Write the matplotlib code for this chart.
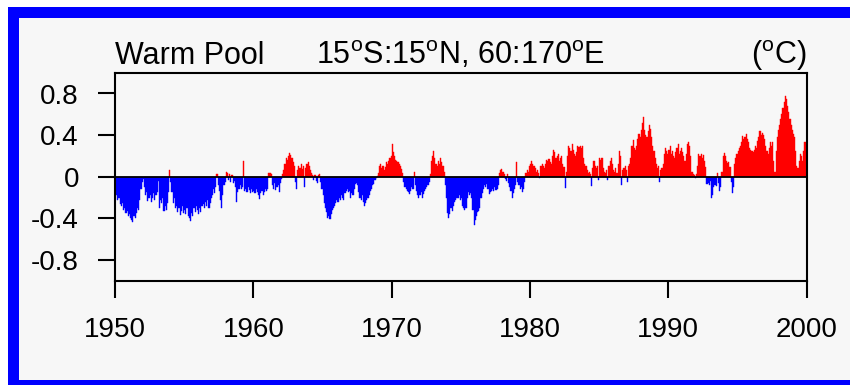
import numpy as np
import matplotlib
matplotlib.use('Agg')
import matplotlib.pyplot as plt
from matplotlib.patches import Rectangle

plt.rcParams['font.family'] = ['Liberation Sans', 'DejaVu Sans']
plt.rcParams['mathtext.fontset'] = 'custom'
plt.rcParams['mathtext.rm'] = 'Liberation Sans'

# monthly SST anomaly (degC), one row per year
anom_1950s = [
    -0.15, -0.18, -0.22, -0.20, -0.26, -0.28, -0.25, -0.32, -0.30, -0.35, -0.33, -0.38,
    -0.36, -0.40, -0.42, -0.44, -0.38, -0.40, -0.35, -0.30, -0.32, -0.22, -0.12, -0.05,
    -0.02, -0.10, -0.18, -0.15, -0.23, -0.20, -0.18, -0.24, -0.20, -0.16, -0.22, -0.18,
    -0.15, -0.04, -0.30, -0.22, -0.25, -0.20, -0.33, -0.28, -0.32, -0.25, -0.15, 0.065,
    -0.05, -0.15, -0.25, -0.20, -0.30, -0.28, -0.34, -0.30, -0.37, -0.33, -0.28, -0.35,
    -0.32, -0.36, -0.30, -0.38, -0.40, -0.43, -0.35, -0.38, -0.30, -0.34, -0.28, -0.32,
    -0.36, -0.30, -0.34, -0.28, -0.26, -0.30, -0.24, -0.28, -0.22, -0.30, -0.25, -0.20,
    -0.18, -0.12, -0.16, -0.10, 0.03, -0.08, -0.14, -0.22, -0.30, -0.18, -0.08, -0.05,
    0.05, 0.04, -0.03, 0.03, -0.05, 0.02, -0.06, -0.04, -0.10, -0.24, -0.15, -0.12,
    -0.08, -0.12, -0.10, 0.15, -0.14, -0.12, -0.15, -0.10, -0.13, -0.16, -0.12, -0.15,
]
anom_1960s = [
    -0.14, -0.16, -0.12, -0.15, -0.18, -0.21, -0.16, -0.14, -0.18, -0.15, -0.12, -0.14,
    -0.12, 0.04, 0.04, 0.03, -0.08, -0.12, -0.06, -0.13, -0.10, -0.08, -0.15, -0.06,
    -0.02, 0.03, 0.06, 0.12, 0.18, 0.16, 0.20, 0.23, 0.21, 0.18, 0.14, 0.10,
    -0.05, -0.12, 0.06, 0.10, 0.08, 0.12, 0.07, 0.10, -0.10, 0.08, 0.12, 0.145,
    0.10, 0.06, 0.04, 0.02, -0.03, 0.02, -0.04, -0.06, 0.02, 0.03, -0.05, -0.12,
    -0.18, -0.25, -0.30, -0.34, -0.40, -0.38, -0.41, -0.36, -0.32, -0.30, -0.28, -0.25,
    -0.22, -0.24, -0.20, -0.22, -0.18, -0.20, -0.22, -0.16, -0.14, -0.12, -0.15, -0.14,
    -0.20, -0.16, -0.18, -0.12, -0.07, -0.06, -0.08, -0.15, -0.20, -0.22, -0.18, -0.24,
    -0.28, -0.25, -0.22, -0.20, -0.18, -0.14, -0.12, -0.08, -0.07, -0.03, -0.01, 0.01,
    0.04, 0.10, 0.12, 0.08, 0.10, 0.06, 0.09, 0.14, 0.12, 0.15, 0.18, 0.20,
]
anom_1970s = [
    0.31, 0.24, 0.20, 0.16, 0.15, 0.14, 0.12, 0.10, 0.07, 0.04, -0.05, -0.10,
    -0.12, -0.14, -0.15, -0.17, -0.14, -0.10, -0.12, 0.05, -0.08, -0.14, -0.18, -0.20,
    -0.18, -0.15, -0.20, -0.17, -0.14, -0.12, -0.10, -0.08, -0.05, 0.03, 0.15, 0.20,
    0.25, 0.18, 0.12, 0.10, 0.15, 0.12, 0.18, 0.14, 0.10, 0.05, -0.08, -0.20,
    -0.35, -0.40, -0.36, -0.30, -0.33, -0.28, -0.24, -0.22, -0.20, -0.20, -0.18, -0.22,
    -0.20, -0.28, -0.30, -0.32, -0.30, -0.20, -0.15, -0.18, -0.16, -0.20, -0.32, -0.46,
    -0.42, -0.38, -0.34, -0.33, -0.30, -0.20, -0.16, -0.12, -0.08, -0.10, -0.07, -0.12,
    -0.17, -0.15, -0.14, -0.12, -0.14, -0.10, -0.13, -0.12, -0.08, 0.04, 0.06, 0.07,
    0.05, 0.03, -0.02, -0.04, 0.03, -0.06, -0.10, -0.14, -0.20, -0.16, -0.12, -0.08,
    0.14, -0.05, -0.08, -0.12, -0.10, -0.15, -0.12, -0.05, 0.04, 0.06, 0.05, 0.10,
]
anom_1980s = [
    0.12, 0.15, 0.12, 0.10, 0.08, 0.05, 0.06, 0.04, -0.01, 0.10, 0.12, 0.10,
    0.08, 0.12, 0.16, 0.15, 0.17, 0.14, 0.12, 0.20, 0.26, 0.24, 0.18, 0.20,
    0.22, 0.15, 0.18, 0.20, 0.12, 0.09, -0.11, 0.05, 0.20, 0.30, 0.28, 0.25,
    0.31, 0.26, 0.22, 0.20, 0.24, 0.30, 0.29, 0.30, 0.28, 0.30, 0.18, 0.12,
    0.10, 0.06, 0.04, 0.05, 0.03, -0.09, 0.08, 0.15, 0.10, 0.08, 0.10, -0.03,
    0.18, 0.16, 0.18, 0.08, 0.05, 0.04, 0.06, -0.03, 0.10, 0.15, 0.18, 0.12,
    0.06, 0.05, 0.08, 0.04, 0.12, 0.25, 0.20, -0.08, 0.06, 0.08, 0.10, 0.06,
    -0.05, 0.10, 0.12, 0.18, 0.30, 0.35, 0.28, 0.26, 0.30, 0.36, 0.41, 0.38,
    0.45, 0.52, 0.57, 0.45, 0.40, 0.38, 0.44, 0.50, 0.46, 0.38, 0.30, 0.25,
    0.18, 0.12, 0.08, 0.10, -0.05, 0.06, 0.08, 0.12, 0.22, 0.28, 0.25, 0.22,
]
anom_1990s = [
    0.26, 0.30, 0.22, 0.25, 0.20, 0.18, 0.24, 0.28, 0.31, 0.22, 0.25, 0.28,
    0.24, 0.20, 0.15, 0.22, 0.31, 0.33, 0.30, 0.20, 0.05, 0.03, 0.02, -0.01,
    0.03, 0.10, 0.22, 0.20, 0.22, 0.18, 0.21, 0.15, 0.09, -0.07, -0.06, -0.08,
    -0.04, -0.20, -0.18, -0.10, -0.08, -0.09, 0.04, -0.06, -0.14, -0.10, 0.05, 0.20,
    0.23, 0.20, 0.15, 0.13, 0.14, 0.09, -0.05, -0.16, -0.10, 0.12, 0.18, 0.22,
    0.25, 0.28, 0.30, 0.33, 0.39, 0.36, 0.38, 0.41, 0.36, 0.33, 0.28, 0.26,
    0.25, 0.24, 0.26, 0.30, 0.28, 0.34, 0.38, 0.44, 0.40, 0.42, 0.40, 0.36,
    0.30, 0.25, 0.22, 0.28, 0.33, 0.30, 0.33, 0.15, 0.05, 0.25, 0.38, 0.45,
    0.50, 0.55, 0.60, 0.66, 0.72, 0.78, 0.75, 0.68, 0.62, 0.55, 0.50, 0.45,
    0.41, 0.38, 0.25, 0.10, 0.08, 0.15, 0.22, 0.20, 0.15, 0.25, 0.33, 0.30,
]

start_year = 1950
year_ticks = [1950, 1960, 1970, 1980, 1990, 2000]
y_ticks = [-0.8, -0.4, 0, 0.4, 0.8]
y_ticklabels = ['-0.8', '-0.4', '0', '0.4', '0.8']

anom = np.array(anom_1950s + anom_1960s + anom_1970s + anom_1980s + anom_1990s)
t = start_year + np.arange(len(anom)) / 12.0

W, H = 850, 385
fig = plt.figure(figsize=(W / 100, H / 100), dpi=100, facecolor='white')

def px_rect(x0, y0, x1, y1, color, z):
    # rectangle given in image pixels (origin top-left)
    fig.add_artist(Rectangle((x0 / W, 1 - y1 / H), (x1 - x0) / W, (y1 - y0) / H,
                             transform=fig.transFigure, facecolor=color,
                             edgecolor='none', zorder=z))

bg = '#f7f7f7'
px_rect(19, 18, 850, 380, bg, -3)
px_rect(8, 7, 850, 18, '#0000ff', -2)
px_rect(8, 7, 19, 385, '#0000ff', -2)
px_rect(8, 380, 850, 385, '#0000ff', -2)

ax = fig.add_axes([115 / W, 1 - 280.7 / H, (806.7 - 115) / W, (280.7 - 72.7) / H])
ax.set_facecolor(bg)

cols = np.where(anom > 0, '#ff0000', '#0000ff')
ax.bar(t, anom, width=1 / 12.0, align='edge', color=cols, edgecolor=cols, linewidth=0.3)
ax.axhline(0, color='black', lw=1.3, zorder=3)

ax.set_xlim(1950, 2000)
ax.set_ylim(-1, 1)
ax.set_xticks(year_ticks)
ax.set_xticklabels([str(y) for y in year_ticks])
ax.set_yticks(y_ticks)
ax.set_yticklabels(y_ticklabels)
ax.minorticks_off()
ax.tick_params(direction='out', length=12, width=1.5, pad=14, labelsize=20)
for s in ax.spines.values():
    s.set_linewidth(1.5)

ax.set_title('Warm Pool', loc='left', fontsize=22, pad=1)
ax.set_title(r'15$^{\mathrm{o}}$S:15$^{\mathrm{o}}$N, 60:170$^{\mathrm{o}}$E', loc='center', fontsize=22, pad=1)
ax.set_title(r'($^{\mathrm{o}}$C)', loc='right', fontsize=22, pad=1)

fig.savefig('out.png', dpi=100)
